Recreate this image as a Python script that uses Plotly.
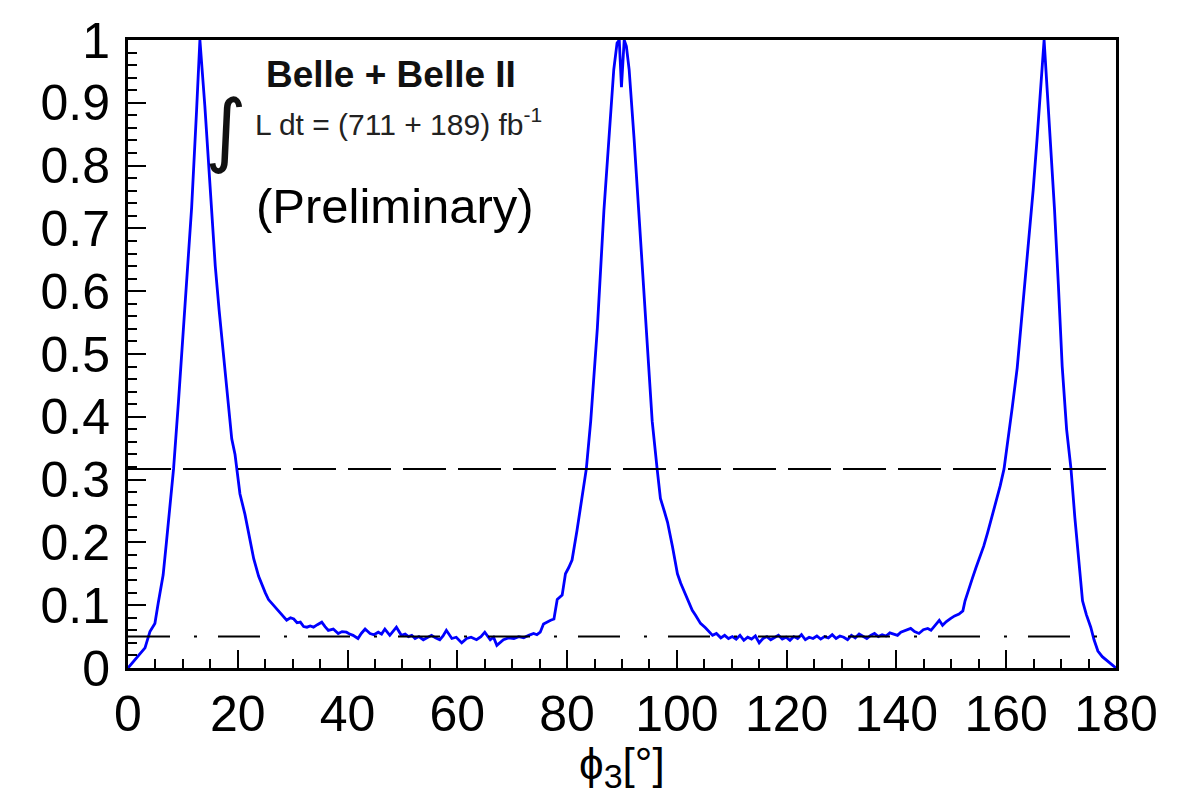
import plotly.graph_objects as go

# phi3 scan: 1 - CL as a function of phi3 (degrees)
phi3 = [
    0.0, 1.3, 2.2, 3.1, 4.0, 4.9, 5.5, 6.4, 7.0, 7.6, 8.3, 9.2, 10.1, 10.7, 11.6, 12.5, 13.1,
    14.0, 15.1, 15.9, 16.6, 17.4, 18.2, 18.9, 19.5, 20.4, 21.3, 22.2, 22.9, 23.8, 24.4, 25.0,
    25.6, 26.5, 27.4, 28.0, 28.9, 29.6, 30.2, 30.8, 31.4, 32.0, 32.6, 33.2, 33.8, 34.5, 35.3,
    35.9, 36.5, 37.4, 38.3, 39.0, 39.8, 40.4, 41.0, 41.9, 42.5, 43.2, 44.1, 44.8, 45.6, 46.2,
    46.8, 47.7, 48.3, 48.9, 49.8, 50.5, 51.1, 51.7, 52.3, 53.0, 53.8, 54.6, 55.3, 56.0, 56.8,
    57.4, 58.0, 59.0, 59.8, 60.8, 61.7, 62.5, 63.5, 64.3, 65.0, 66.0, 66.6, 67.2, 68.4, 69.3,
    70.3, 71.2, 72.1, 73.0, 73.9, 74.5, 75.1, 75.7, 76.3, 77.0, 77.6, 78.2, 79.1, 79.7, 80.3,
    80.9, 81.8, 82.7, 83.5, 84.3, 85.5, 86.7, 87.6, 88.5, 89.1, 89.5, 89.9, 90.4, 90.8, 91.3,
    92.2, 93.1, 94.3, 95.5, 96.4, 97.0, 97.7, 98.3, 99.2, 100.1, 100.7, 101.3, 102.2, 102.8,
    103.4, 104.3, 105.2, 105.9, 106.5, 107.2, 108.0, 108.7, 109.4, 110.1, 110.8, 111.5, 112.2,
    112.9, 113.6, 114.3, 115.0, 115.7, 116.4, 117.1, 117.8, 118.5, 119.2, 119.9, 120.6, 121.3,
    122.0, 122.7, 123.4, 124.1, 124.8, 125.5, 126.2, 126.9, 127.6, 128.3, 129.0, 129.7, 130.4,
    131.1, 131.8, 132.5, 133.2, 133.9, 134.6, 135.3, 136.0, 136.7, 137.4, 138.1, 138.8, 139.5,
    140.2, 140.8, 141.6, 142.6, 143.3, 144.1, 144.9, 145.7, 146.3, 146.8, 147.3, 147.8, 148.4,
    149.1, 149.9, 150.6, 151.4, 152.1, 152.5, 153.1, 153.8, 154.5, 155.2, 155.9, 156.6, 157.4,
    158.1, 158.9, 159.6, 160.3, 161.1, 162.0, 162.6, 163.4, 164.1, 164.9, 165.6, 166.3, 166.9,
    167.5, 168.1, 168.8, 169.5, 170.2, 171.0, 171.8, 172.5, 173.2, 173.9, 174.6, 175.4, 176.0,
    176.7, 177.5, 178.5, 179.3, 180.0,
]
one_minus_cl = [
    0.000, 0.013, 0.022, 0.032, 0.058, 0.071, 0.103, 0.148, 0.200, 0.255, 0.317, 0.425, 0.540, 0.610, 0.734, 0.889, 1.000,
    0.895, 0.753, 0.640, 0.570, 0.502, 0.430, 0.365, 0.340, 0.277, 0.245, 0.205, 0.174, 0.146, 0.132, 0.120,
    0.109, 0.100, 0.090, 0.084, 0.076, 0.080, 0.078, 0.072, 0.073, 0.066, 0.065, 0.067, 0.065, 0.069, 0.073,
    0.066, 0.060, 0.062, 0.055, 0.058, 0.057, 0.054, 0.052, 0.047, 0.055, 0.062, 0.055, 0.053, 0.057, 0.054,
    0.062, 0.052, 0.058, 0.065, 0.052, 0.054, 0.050, 0.052, 0.047, 0.050, 0.045, 0.049, 0.052, 0.048, 0.045,
    0.051, 0.060, 0.047, 0.049, 0.040, 0.047, 0.049, 0.045, 0.050, 0.057, 0.045, 0.049, 0.036, 0.045, 0.048,
    0.047, 0.050, 0.048, 0.052, 0.055, 0.053, 0.057, 0.070, 0.073, 0.076, 0.078, 0.109, 0.116, 0.150, 0.160,
    0.172, 0.219, 0.270, 0.317, 0.393, 0.540, 0.728, 0.843, 0.953, 0.995, 1.000, 0.925, 1.000, 0.990, 0.953,
    0.843, 0.715, 0.554, 0.393, 0.317, 0.270, 0.250, 0.232, 0.193, 0.150, 0.135, 0.122, 0.103, 0.092,
    0.084, 0.071, 0.064, 0.058, 0.052, 0.055, 0.048, 0.052, 0.047, 0.050, 0.046, 0.052, 0.044,
    0.049, 0.046, 0.051, 0.040, 0.047, 0.050, 0.045, 0.048, 0.052, 0.046, 0.049, 0.044, 0.050,
    0.047, 0.053, 0.045, 0.049, 0.047, 0.051, 0.046, 0.050, 0.048, 0.053, 0.047, 0.051, 0.049,
    0.045, 0.052, 0.048, 0.054, 0.050, 0.047, 0.052, 0.055, 0.050, 0.053, 0.051, 0.056, 0.054,
    0.052, 0.057, 0.060, 0.063, 0.058, 0.055, 0.061, 0.063, 0.060, 0.065, 0.070, 0.076, 0.068,
    0.074, 0.079, 0.083, 0.086, 0.091, 0.107, 0.125, 0.142, 0.160, 0.176, 0.194, 0.215, 0.240,
    0.262, 0.290, 0.317, 0.360, 0.415, 0.478, 0.535, 0.610, 0.680, 0.760, 0.840, 0.920, 1.000,
    0.915, 0.830, 0.730, 0.610, 0.480, 0.380, 0.317, 0.240, 0.170, 0.107, 0.085, 0.065, 0.045,
    0.027, 0.018, 0.010, 0.005, 0.000,
]

# Reference levels: 1 sigma and 95% CL
level_1sigma = 0.317
level_95 = 0.05

x_ticks = [0, 20, 40, 60, 80, 100, 120, 140, 160, 180]
y_ticks = [0, 0.1, 0.2, 0.3, 0.4, 0.5, 0.6, 0.7, 0.8, 0.9, 1]

FONT = "Liberation Sans, Arial, Helvetica, sans-serif"

fig = go.Figure()
fig.add_trace(go.Scatter(
    x=phi3, y=one_minus_cl, mode="lines",
    line=dict(color="#0000ff", width=2.8),
    showlegend=False, hoverinfo="skip",
))

fig.add_shape(type="line", xref="x", yref="y", x0=0, x1=180,
              y0=level_1sigma, y1=level_1sigma,
              line=dict(color="black", width=2, dash="43px,12px"))
fig.add_shape(type="line", xref="x", yref="y", x0=0, x1=180,
              y0=level_95, y1=level_95,
              line=dict(color="black", width=2, dash="42px,24px,3px,21px"))

axis_common = dict(
    showline=True, linecolor="black", linewidth=3, mirror=True,
    ticks="inside", tickcolor="black", tickwidth=2, ticklen=18,
    showgrid=False, zeroline=False,
    tickfont=dict(family=FONT, size=50, color="black"),
)

fig.update_xaxes(
    range=[0, 180], tickvals=x_ticks, ticktext=[str(v) for v in x_ticks],
    minor=dict(dtick=5, tick0=0, ticks="inside", ticklen=9, tickwidth=2, tickcolor="black"),
    **axis_common,
)
fig.update_yaxes(
    range=[0, 1], tickvals=y_ticks, ticktext=[("%g" % v) for v in y_ticks],
    minor=dict(dtick=0.02, tick0=0, ticks="inside", ticklen=9, tickwidth=2, tickcolor="black"),
    ticklabelstandoff=5,
    **axis_common,
)

# x-axis title
fig.add_annotation(x=0.5, y=-0.158, xref="paper", yref="paper", yanchor="middle",
                   text="ϕ<sub><span style='font-size:34px'>3</span></sub>[°]",
                   showarrow=False, font=dict(family=FONT, size=44, color="black"))

fig.add_annotation(x=48.0, y=0.945, xref="x", yref="y", text="<b>Belle + Belle II</b>",
                   showarrow=False, font=dict(family=FONT, size=37, color="#111111"))
fig.add_annotation(x=17.8, y=0.858, xref="x", yref="y", text="∫", xanchor="center",
                   showarrow=False, font=dict(family="DejaVu Sans", size=80, color="#111111"))
fig.add_annotation(x=22.8, y=0.87, xref="x", yref="y", xanchor="left",
                   text="L dt = (711 + 189) fb<sup>-1</sup>",
                   showarrow=False, font=dict(family=FONT, size=30, color="#222222"))
fig.add_annotation(x=22.9, y=0.735, xref="x", yref="y", xanchor="left",
                   text="(Preliminary)",
                   showarrow=False, font=dict(family=FONT, size=49, color="black"))

fig.update_layout(
    width=1179, height=807,
    margin=dict(l=128, r=63, t=33, b=139),
    paper_bgcolor="white", plot_bgcolor="white",
    font=dict(family=FONT),
)

fig.write_html("out.html")
